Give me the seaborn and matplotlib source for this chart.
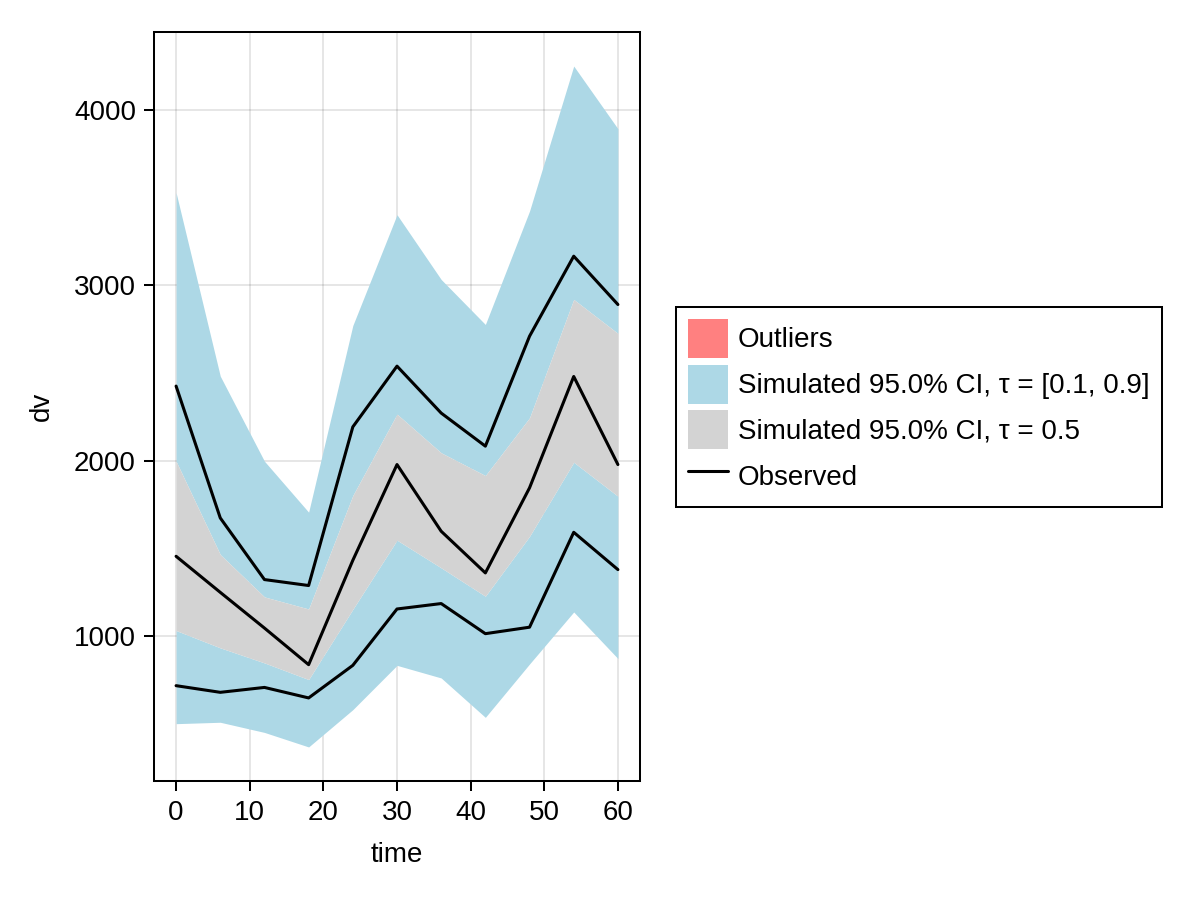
import numpy as np
import pandas as pd
import matplotlib
matplotlib.use("Agg")
import matplotlib.pyplot as plt
import seaborn as sns
from matplotlib.patches import Patch
from matplotlib.lines import Line2D

# ---- data ----
times = [0, 6, 12, 18, 24, 30, 36, 42, 48, 54, 60]
upper_ci_hi = [3530, 2482, 1996, 1705, 2771, 3404, 3034, 2777, 3425, 4253, 3895]
upper_ci_lo = [1996, 1463, 1221, 1152, 1800, 2265, 2044, 1914, 2244, 2920, 2726]
median_ci_hi = [1996, 1463, 1221, 1152, 1800, 2265, 2044, 1914, 2244, 2920, 2726]
median_ci_lo = [1029, 930, 844, 749, 1150, 1545, 1387, 1225, 1567, 1990, 1796]
lower_ci_hi = [1029, 930, 844, 749, 1150, 1545, 1387, 1225, 1567, 1990, 1796]
lower_ci_lo = [497, 505, 447, 364, 577, 830, 758, 533, 838, 1135, 869]
obs_q90 = [2425, 1672, 1320, 1286, 2192, 2539, 2271, 2082, 2710, 3167, 2891]
obs_q50 = [1453, 1247, 1043, 834, 1430, 1977, 1596, 1358, 1844, 2480, 1977]
obs_q10 = [714, 676, 704, 644, 830, 1152, 1183, 1011, 1048, 1590, 1377]

legend_labels = ["Outliers",
                 "Simulated 95.0% CI, \u03c4 = [0.1, 0.9]",
                 "Simulated 95.0% CI, \u03c4 = 0.5",
                 "Observed"]

obs = pd.DataFrame({
    "time": times * 3,
    "dv": obs_q10 + obs_q50 + obs_q90,
    "quantile": ["0.1"] * len(times) + ["0.5"] * len(times) + ["0.9"] * len(times),
})

# ---- style ----
sns.set_theme(style="ticks")
plt.rcParams["font.family"] = ["Liberation Sans", "DejaVu Sans"]
FS = 20
plt.rcParams.update({
    "axes.linewidth": 1.45,
    "xtick.major.width": 1.45,
    "ytick.major.width": 1.45,
    "xtick.major.size": 7,
    "ytick.major.size": 7,
    "xtick.major.pad": 7,
    "ytick.major.pad": 6,
    "xtick.color": "black",
    "ytick.color": "black",
    "text.color": "black",
    "axes.labelcolor": "black",
    "axes.edgecolor": "black",
    "legend.edgecolor": "black",
    "font.size": FS,
})

BLUE = "#ADD8E6"
GREY = "#D3D3D3"
PINK = "#FF8080"

fig = plt.figure(figsize=(12, 9), dpi=100)
ax = fig.add_axes([154 / 1200, 1 - 781 / 900, (640 - 154) / 1200, (781 - 32) / 900])

ax.fill_between(times, upper_ci_lo, upper_ci_hi, color=BLUE, linewidth=0, zorder=1)
ax.fill_between(times, lower_ci_lo, lower_ci_hi, color=BLUE, linewidth=0, zorder=1)
ax.fill_between(times, median_ci_lo, median_ci_hi, color=GREY, linewidth=0, zorder=2)

sns.lineplot(data=obs, x="time", y="dv", units="quantile", estimator=None,
             color="black", linewidth=2.2, ax=ax, zorder=3, legend=False)

ymin, ymax = min(lower_ci_lo), max(upper_ci_hi)
pad = 0.05 * (ymax - ymin)
ax.set_ylim(ymin - pad, ymax + pad)
xpad = 0.05 * (max(times) - min(times))
ax.set_xlim(min(times) - xpad, max(times) + xpad)
ax.set_xticks([0, 10, 20, 30, 40, 50, 60])
ax.set_yticks([1000, 2000, 3000, 4000])
ax.grid(True, color="black", alpha=0.1, linewidth=1.4, zorder=0)
ax.set_axisbelow(True)
ax.tick_params(labelsize=FS)
ax.set_xlabel("time", fontsize=FS, labelpad=11)
ax.set_ylabel("dv", fontsize=FS, labelpad=14)
for s in ax.spines.values():
    s.set_visible(True)
    s.set_linewidth(1.45)

handles = [Patch(facecolor=PINK, edgecolor="none"),
           Patch(facecolor=BLUE, edgecolor="none"),
           Patch(facecolor=GREY, edgecolor="none"),
           Line2D([0], [0], color="black", linewidth=2.2)]
leg = fig.legend(handles, legend_labels, loc="center left",
                 bbox_to_anchor=(676 / 1200, 1 - 407 / 900),
                 fontsize=FS, frameon=True, fancybox=False,
                 handlelength=1.44, handleheight=1.78, handletextpad=0.36,
                 labelspacing=0.25, borderpad=0.43, borderaxespad=0)
leg.get_frame().set_edgecolor("black")
leg.get_frame().set_linewidth(1.45)
leg.get_frame().set_alpha(1)

fig.savefig("out.png", dpi=100)
